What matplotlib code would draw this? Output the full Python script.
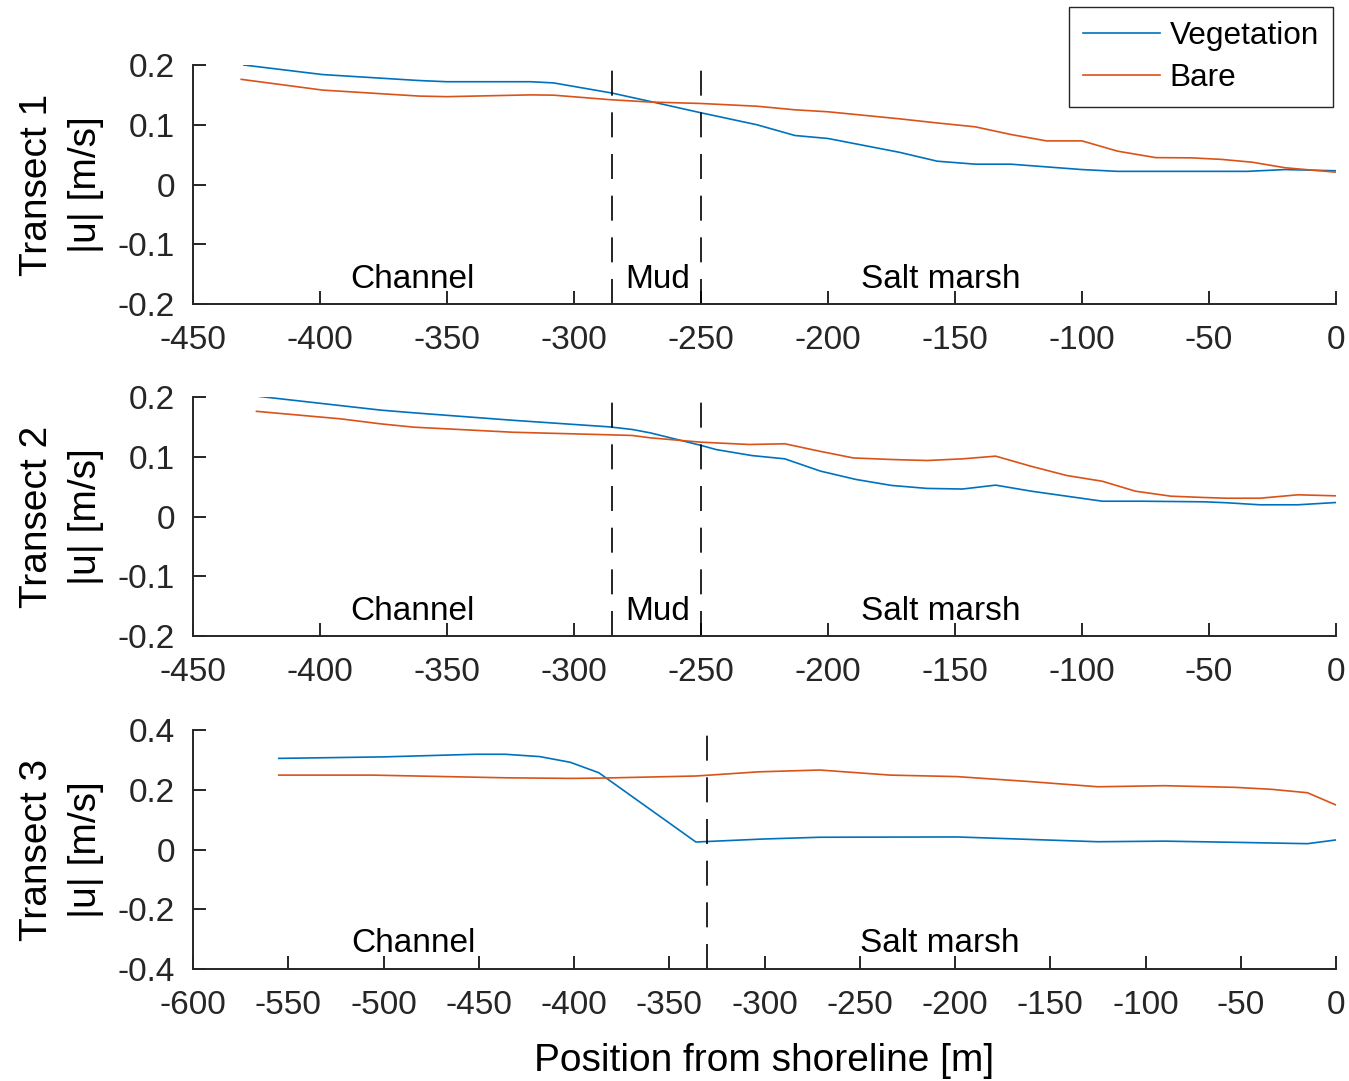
import matplotlib
matplotlib.use('Agg')
import matplotlib.pyplot as plt

plt.rcParams['font.family'] = ['Liberation Sans', 'DejaVu Sans']
plt.rcParams['axes.unicode_minus'] = False

BLUE = '#0072BD'
ORANGE = '#D95319'
GREY = '#262626'

# transect 1
t1_veg_x = [-430, -399, -361, -350, -317, -308, -285, -270, -250, -228, -213, -200,
            -172, -157, -142, -128, -100, -86, -35, -20, 0]
t1_veg_y = [0.200, 0.184, 0.174, 0.172, 0.172, 0.170, 0.153, 0.139, 0.120, 0.100, 0.082, 0.077,
            0.054, 0.039, 0.034, 0.034, 0.025, 0.022, 0.022, 0.025, 0.023]
t1_bare_x = [-431, -399, -361, -350, -317, -308, -286, -270, -250, -228, -213, -200,
             -172, -157, -142, -128, -114, -100, -86, -71, -57, -45, -33, -20, 0]
t1_bare_y = [0.176, 0.158, 0.148, 0.147, 0.150, 0.1495, 0.142, 0.138, 0.1356, 0.131, 0.125, 0.1217,
             0.110, 0.103, 0.0965, 0.0837, 0.073, 0.073, 0.0558, 0.045, 0.0446, 0.042, 0.0373, 0.028, 0.0206]

# transect 2
t2_veg_x = [-424, -376, -363, -324, -286, -277, -270, -250, -244, -230, -217, -203, -189,
            -175, -161, -147, -134, -120, -106, -92, -77, -52, -43, -30, -15, 0]
t2_veg_y = [0.201, 0.178, 0.1735, 0.161, 0.150, 0.1456, 0.140, 0.119, 0.112, 0.102, 0.0965, 0.076, 0.062,
            0.052, 0.047, 0.046, 0.0525, 0.0424, 0.034, 0.0256, 0.0256, 0.0246, 0.023, 0.0196, 0.0196, 0.0234]
t2_bare_x = [-425, -392, -376, -363, -324, -286, -277, -270, -250, -231, -217, -203, -190,
             -175, -161, -147, -134, -120, -106, -92, -79, -65, -52, -43, -30, -15, 0]
t2_bare_y = [0.176, 0.1635, 0.155, 0.1495, 0.141, 0.1367, 0.1356, 0.1317, 0.1244, 0.1205, 0.1217, 0.109, 0.098,
             0.0954, 0.0937, 0.0965, 0.101, 0.084, 0.0686, 0.059, 0.0424, 0.034, 0.0318, 0.0306, 0.0306, 0.0363, 0.0346]

# transect 3
t3_veg_x = [-555, -500, -452, -436, -418, -402, -387, -336, -301, -271, -199, -125, -90, -53, -15, 0]
t3_veg_y = [0.305, 0.310, 0.3187, 0.3187, 0.311, 0.292, 0.257, 0.025, 0.035, 0.041, 0.042, 0.026, 0.028,
            0.024, 0.0195, 0.032]
t3_bare_x = [-555, -506, -436, -402, -386, -336, -303, -271, -234, -199, -160, -125, -90, -53, -34, -15, 0]
t3_bare_y = [0.249, 0.249, 0.240, 0.238, 0.239, 0.246, 0.260, 0.266, 0.249, 0.244, 0.227, 0.210, 0.2136,
             0.208, 0.2015, 0.190, 0.149]

zone_lines = [[-285, -250], [-285, -250], [-330]]
zone_text = [
    [(-388, 'Channel'), (-280, 'Mud'), (-187, 'Salt marsh')],
    [(-388, 'Channel'), (-280, 'Mud'), (-187, 'Salt marsh')],
    [(-517, 'Channel'), (-250, 'Salt marsh')],
]
text_y = [-0.174, -0.174, -0.344]

W, H = 1349, 1081
fig = plt.figure(figsize=(W / 100, H / 100), dpi=100)

left = 193 / W
width = 1143 / W
height = 239 / H
tops = [304, 636, 969]

series = [
    (t1_veg_x, t1_veg_y, t1_bare_x, t1_bare_y),
    (t2_veg_x, t2_veg_y, t2_bare_x, t2_bare_y),
    (t3_veg_x, t3_veg_y, t3_bare_x, t3_bare_y),
]
ylims = [0.2, 0.2, 0.4]
xmins = [-450, -450, -600]

for i in range(3):
    ax = fig.add_axes([left, 1 - tops[i] / H, width, height])
    vx, vy, bx, by = series[i]
    ax.plot(vx, vy, color=BLUE, lw=1.2, label='Vegetation')
    ax.plot(bx, by, color=ORANGE, lw=1.2, label='Bare')
    lim = ylims[i]
    for xl in zone_lines[i]:
        ax.plot([xl, xl], [-lim, lim], color='k', lw=1.2, linestyle=(0, (15, 10)))
    for tx, s in zone_text[i]:
        ax.text(tx, text_y[i], s, fontsize=24, ha='left', va='baseline', color='k')
    ax.set_xlim(xmins[i], 0)
    ax.set_ylim(-lim, lim)
    ax.set_xticks(range(xmins[i], 1, 50))
    if lim == 0.2:
        ax.set_yticks([-0.2, -0.1, 0, 0.1, 0.2])
        ax.set_yticklabels(['-0.2', '-0.1', '0', '0.1', '0.2'])
    else:
        ax.set_yticks([-0.4, -0.2, 0, 0.2, 0.4])
        ax.set_yticklabels(['-0.4', '-0.2', '0', '0.2', '0.4'])
    ax.spines['top'].set_visible(False)
    ax.spines['right'].set_visible(False)
    for sp in ['left', 'bottom']:
        ax.spines[sp].set_linewidth(1.4)
        ax.spines[sp].set_color(GREY)
    ax.tick_params(direction='in', length=9.5, width=1.4, color=GREY,
                   labelsize=24, labelcolor=GREY)
    ax.tick_params(axis='y', pad=13)
    ax.tick_params(axis='x', pad=15)
    ax.set_ylabel('Transect %d\n|u| [m/s]' % (i + 1), fontsize=28, linespacing=1.45)
    ax.yaxis.set_label_coords(-0.078, 0.5)
    if i == 0:
        fig.legend(*ax.get_legend_handles_labels(), loc='upper right',
                   bbox_to_anchor=(1333 / W, 1 - 7 / H), fontsize=22.7,
                   fancybox=False, framealpha=1, edgecolor=GREY,
                   handlelength=2.45, handletextpad=0.3, borderpad=0.45,
                   labelspacing=0.38, borderaxespad=0)
    if i == 2:
        ax.set_xlabel('Position from shoreline [m]', fontsize=28, labelpad=16)

fig.savefig('out.png', dpi=100)
